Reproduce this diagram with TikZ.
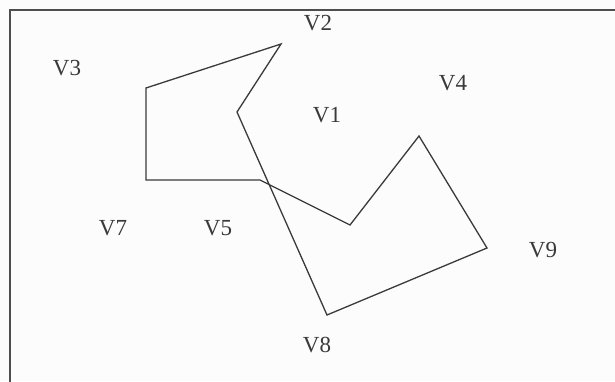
\documentclass[tikz,border=0pt]{standalone}
\usepackage{fontspec}
\setmainfont{Liberation Serif}
\usepackage{xcolor}
\definecolor{inkgray}{HTML}{3A3A3A}
\definecolor{paper}{HTML}{FCFCFC}

\begin{document}
\begin{tikzpicture}[x=1pt,y=-1pt,
    vlabel/.style={inner sep=0pt,text=inkgray,font=\fontsize{23}{26}\selectfont},
    road/.style={line width=1.3pt,draw=inkgray,line join=miter}]
                % Page
                \useasboundingbox (0,0) rectangle (615,381);
                \fill[paper] (0,0) rectangle (615,381);
                \clip (0,0) rectangle (615,381);
                \draw[line width=1.8pt,draw=inkgray!90] (10,400) -- (10,10) -- (640,10);

                % Corners of the route
                \coordinate (p1) at (281,44);
                \coordinate (p2) at (146,88);
                \coordinate (p3) at (146,180);
                \coordinate (p4) at (260,180);
                \coordinate (p5) at (350,225);
                \coordinate (p6) at (419,136);
                \coordinate (p7) at (487,248);
                \coordinate (p8) at (327,315);
                \coordinate (p9) at (237,112);

                % Route
                \draw[road] (p1) -- (p2) -- (p3) -- (p4) -- (p5) -- (p6)
                    -- (p7) -- (p8) -- (p9) -- cycle;

                % Vertex labels
                \node[vlabel] (v1) at (327,115) {V1};
                \node[vlabel] (v2) at (318,23) {V2};
                \node[vlabel] (v3) at (67,68) {V3};
                \node[vlabel] (v4) at (453,83) {V4};
                \node[vlabel] (v5) at (218,228) {V5};
                \node[vlabel] (v7) at (113,228) {V7};
                \node[vlabel] (v8) at (317,345) {V8};
                \node[vlabel] (v9) at (543,250) {V9};
            \end{tikzpicture}
\end{document}
